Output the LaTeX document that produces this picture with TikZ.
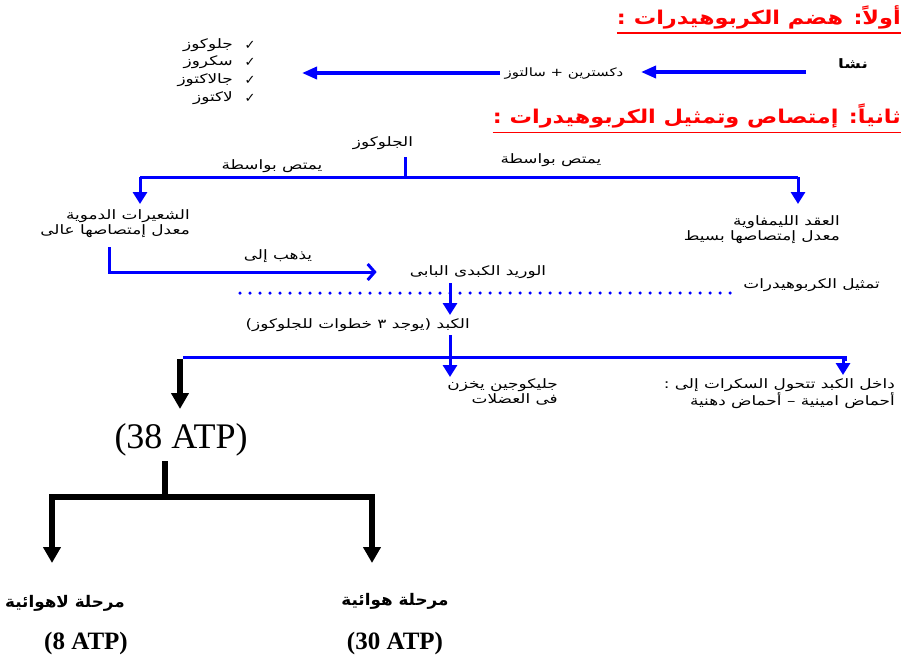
\documentclass[tikz,border=0pt]{standalone}
\usepackage{fontspec}
\setmainfont{Liberation Serif}
\newfontfamily\arabicfont[Script=Arabic,FakeStretch=1.3]{DejaVu Sans}
\newfontfamily\arabicbold[Script=Arabic,FakeStretch=1.3]{DejaVu Sans Bold}
\newfontfamily\titlefont[Script=Arabic,FakeStretch=1.18]{DejaVu Sans Bold}
\newfontfamily\stagefont[Script=Arabic,FakeStretch=1.05]{DejaVu Sans Bold}
\newfontfamily\symbolfont{DejaVu Sans}
\TeXXeTstate=1
\usetikzlibrary{arrows.meta}
\newcommand\rl[1]{\beginR #1\endR}
\definecolor{flowblue}{RGB}{0,0,255}
\definecolor{titlered}{RGB}{255,0,0}
\tikzset{
  artext/.style={font=\arabicfont\fontsize{13}{15}\selectfont, inner sep=0pt, align=right},
  arbold/.style={font=\arabicbold\fontsize{13}{15}\selectfont, inner sep=0pt},
  titletext/.style={font=\titlefont\fontsize{19}{21}\selectfont, text=titlered, inner sep=0pt},
  underline/.style={draw=titlered, line width=1.6pt},
  flow/.style={draw=flowblue, line width=3pt},
  flowtip/.style={flow, -{Triangle[length=12pt,width=14pt]}},
  bigtip/.style={flow, line width=3.5pt, -{Triangle[length=15pt,width=12pt]}},
  opentip/.style={flow, -{Straight Barb[length=7pt,width=16pt,line width=3pt]}},
  dotted line/.style={draw=flowblue, line width=3.5pt, line cap=round, dash pattern=on 0pt off 10pt},
  blackflow/.style={draw=black, line width=5.5pt},
  blacktip/.style={blackflow, -{Triangle[length=16pt,width=17pt]}},
  stagehead/.style={font=\stagefont\fontsize{16}{18}\selectfont, inner sep=0pt},
  atp/.style={font=\bfseries\fontsize{25}{27}\selectfont, inner sep=0pt},
  check/.style={font=\symbolfont\fontsize{13}{15}\selectfont, inner sep=0pt},
}
\begin{document}
\begin{tikzpicture}[x=1pt,y=-1pt]
\useasboundingbox (0,0) rectangle (917,662);
\fill[white] (0,0) rectangle (917,662);

% ---- Part one: digestion ----
\node[titletext, anchor=east] (t1) at (901,17) {\rl{أولاً: هضم الكربوهيدرات :}};
\draw[underline] ([yshift=-4pt]t1.south west) -- ([yshift=-4pt]t1.south east);

\node[arbold] (starch) at (853,64) {\rl{نشا}};
\coordinate (a1s) at (806,72);
\coordinate (a1e) at (641,72);
\draw[bigtip] (a1s) -- (a1e);
\node[artext, font=\arabicfont\fontsize{11.5}{14}\selectfont] (dext) at (564,74) {\rl{دكسترين + سالتوز}};
\coordinate (a2s) at (500,73);
\coordinate (a2e) at (302,73);
\draw[bigtip] (a2s) -- (a2e);

\node[artext, anchor=east] (s1) at (233,45) {\rl{جلوكوز}};
\node[artext, anchor=east] (s2) at (233,62) {\rl{سكروز}};
\node[artext, anchor=east] (s3) at (233,80) {\rl{جالاكتوز}};
\node[artext, anchor=east] (s4) at (233,98) {\rl{لاكتوز}};
\node[check] (c1) at (250,45) {✓};
\node[check] (c2) at (250,62) {✓};
\node[check] (c3) at (250,80) {✓};
\node[check] (c4) at (250,98) {✓};

% ---- Part two: absorption and assimilation ----
\node[titletext, anchor=east] (t2) at (901,116) {\rl{ثانياً: إمتصاص وتمثيل الكربوهيدرات :}};
\draw[underline] ([yshift=-4pt]t2.south west) -- ([yshift=-4pt]t2.south east);

\node[artext] (glu) at (383,143) {\rl{الجلوكوز}};
\coordinate (gstem) at (405,157);
\coordinate (gsplit) at (405,177);
\coordinate (gl) at (140,177);
\coordinate (gr) at (798,177);
\node[artext] (absl) at (272,166) {\rl{يمتص بواسطة}};
\node[artext] (absr) at (551,160) {\rl{يمتص بواسطة}};

\node[artext, anchor=north east] (cap) at (190,209) {\rl{الشعيرات الدموية}\\\rl{معدل إمتصاصها عالى}};
\node[artext, anchor=north east] (lym) at (840,215) {\rl{العقد الليمفاوية}\\\rl{معدل إمتصاصها بسيط}};

\draw[flow] (gstem) -- (gsplit);
\draw[flow] (gl) -- (gr);
\draw[flowtip] (gl) -- (140,204);
\draw[flowtip] (gr) -- (798,204);

\node[artext] (goes) at (278,256) {\rl{يذهب إلى}};
\node[artext] (portal) at (478,272) {\rl{الوريد الكبدى البابى}};
\coordinate (capout) at (109,247);
\draw[opentip] (capout) -- (109,272) -- ([xshift=-33pt]portal.west |- 109,272);

\coordinate (dotl) at (240,293);
\coordinate (dotr) at (738,293);
\draw[dotted line] (dotl) -- (dotr);
\node[artext, anchor=east] (assim) at (880,285) {\rl{تمثيل الكربوهيدرات}};

\node[artext, anchor=east] (liver) at (470,325) {\rl{الكبد (يوجد ٣ خطوات للجلوكوز)}};
\coordinate (lvin) at (450,283);
\draw[flowtip] (lvin) -- (450,315);
\coordinate (lvout) at (450,335);
\coordinate (lvsplit) at (450,357);
\coordinate (hl) at (183,357);
\coordinate (hr) at (845,357);
\draw[flow] (lvout) -- (lvsplit);
\draw[flow] (hl) -- (hr) -- (845,361);
\draw[flowtip] (lvsplit) -- (450,377);
\draw[flowtip] (843,357) -- (843,375);

\node[artext, anchor=north east] (glyc) at (558,378) {\rl{جليكوجين يخزن}\\\rl{فى العضلات}};
\node[artext, anchor=north east] (conv) at (895,378) {\rl{داخل الكبد تتحول السكرات إلى :}\\\rl{أحماض امينية – أحماض دهنية}};

% ---- Energy yield ----
\node[font=\fontsize{36}{38}\selectfont, inner sep=0pt] (atp) at (181,440) {(38 ATP)};
\draw[blacktip] (180,359) -- (180,409);
\coordinate (atpout) at (165,461);
\coordinate (split) at (165,497);
\coordinate (bl) at (52,497);
\coordinate (br) at (372,497);
\draw[blackflow] (atpout) -- (split);
\draw[blackflow, line cap=rect] (bl) -- (br);

\node[stagehead] (anaer) at (65,603) {\rl{مرحلة لاهوائية}};
\node[stagehead] (aer) at (395,601) {\rl{مرحلة هوائية}};
\node[atp] (atp8) at (86,643) {(8 ATP)};
\node[atp] (atp30) at (395,643) {(30 ATP)};

\draw[blacktip] (bl) -- (52,563);
\draw[blacktip] (br) -- (372,563);
\end{tikzpicture}
\end{document}
